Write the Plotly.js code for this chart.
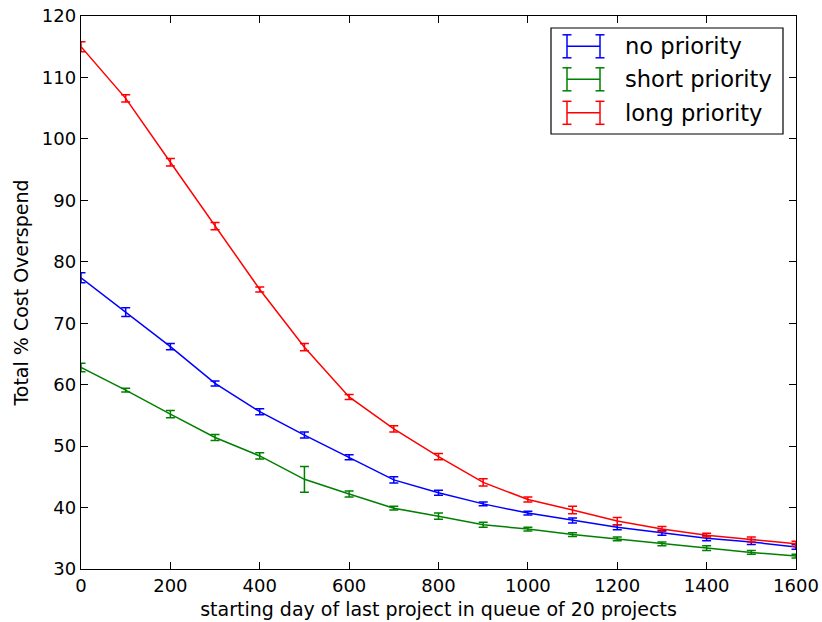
<!DOCTYPE html>
<html>
<head>
<meta charset="utf-8">
<script src="https://cdn.plot.ly/plotly-3.0.1.min.js"></script>
<style>html,body{margin:0;padding:0;background:#fff;}#chart{width:822px;height:622px;}</style>
</head>
<body>
<div id="chart"></div>
<script>
const days = [0,100,200,300,400,500,600,700,800,900,1000,1100,1200,1300,1400,1500,1600];

const seriesNames = ["no priority", "short priority", "long priority"];
const seriesColors = ["#0000ff", "#008000", "#ff0000"];

const noPriority    = [77.4,71.8,66.2,60.2,55.6,51.8,48.2,44.5,42.4,40.6,39.1,37.9,36.8,35.9,35.0,34.4,33.6];
const noPriorityErr = [0.8,0.7,0.5,0.4,0.5,0.5,0.4,0.5,0.4,0.3,0.3,0.4,0.4,0.4,0.4,0.4,0.4];

const shortPriority    = [62.8,59.1,55.2,51.4,48.4,44.6,42.2,39.9,38.6,37.2,36.5,35.6,34.9,34.1,33.4,32.7,32.1];
const shortPriorityErr = [0.7,0.3,0.6,0.5,0.5,2.1,0.5,0.3,0.5,0.4,0.3,0.3,0.3,0.3,0.4,0.3,0.3];

const longPriority    = [115.0,106.6,96.2,85.8,75.5,66.1,58.0,52.8,48.3,44.1,41.3,39.6,37.8,36.5,35.5,34.8,34.1];
const longPriorityErr = [0.8,0.6,0.6,0.6,0.4,0.6,0.4,0.5,0.5,0.6,0.4,0.6,0.6,0.4,0.3,0.4,0.4];

const xTicks = [0,200,400,600,800,1000,1200,1400,1600];
const yTicks = [30,40,50,60,70,80,90,100,110,120];

const xTitle = "starting day of last project in queue of 20 projects";
const yTitle = "Total % Cost Overspend";

const values = [noPriority, shortPriority, longPriority];
const errors = [noPriorityErr, shortPriorityErr, longPriorityErr];

const traces = values.map((v, i) => ({
  type: "scatter",
  mode: "lines",
  x: days,
  y: v,
  name: seriesNames[i],
  line: {color: seriesColors[i], width: 1.5},
  error_y: {type: "data", array: errors[i], visible: true, color: seriesColors[i], thickness: 1.5, width: 4.5},
  showlegend: false,
  hoverinfo: "x+y"
}));

// Custom matplotlib-style legend (pixel layout converted to paper coords)
const W = 822, H = 622, L = 81, R = 26, T = 16, B = 53;
const pw = W - L - R, ph = H - T - B;
const px = x => (x - L) / pw;
const py = y => (H - B - y) / ph;

const shapes = [];
const annotations = [];
shapes.push({type: "rect", xref: "paper", yref: "paper", x0: px(551), x1: px(783), y0: py(134), y1: py(28),
  line: {color: "#000", width: 1.2}, fillcolor: "#fff", layer: "above"});
const rowY = [46.3, 79.3, 112.8];
seriesNames.forEach((n, i) => {
  const c = seriesColors[i], y = rowY[i];
  const ln = {color: c, width: 1.5};
  shapes.push({type: "line", xref: "paper", yref: "paper", x0: px(567), x1: px(600), y0: py(y), y1: py(y), line: ln, layer: "above"});
  [567, 600].forEach(xx => {
    shapes.push({type: "line", xref: "paper", yref: "paper", x0: px(xx), x1: px(xx), y0: py(y - 11.5), y1: py(y + 11.5), line: ln, layer: "above"});
    shapes.push({type: "line", xref: "paper", yref: "paper", x0: px(xx - 4.5), x1: px(xx + 4.5), y0: py(y - 11.5), y1: py(y - 11.5), line: ln, layer: "above"});
    shapes.push({type: "line", xref: "paper", yref: "paper", x0: px(xx - 4.5), x1: px(xx + 4.5), y0: py(y + 11.5), y1: py(y + 11.5), line: ln, layer: "above"});
  });
  annotations.push({xref: "paper", yref: "paper", x: px(623), y: py(y), xanchor: "left", yanchor: "middle",
    text: n, showarrow: false, font: {family: "DejaVu Sans", size: 22.6, color: "#000"}});
});

const axisCommon = {
  showgrid: false, zeroline: false, showline: true, linecolor: "#000", linewidth: 1.2,
  mirror: "allticks", ticks: "inside", ticklen: 7, tickwidth: 1, tickcolor: "#000",
  tickfont: {family: "DejaVu Sans", size: 18, color: "#000"}
};

const layout = {
  width: W, height: H,
  margin: {l: L, r: R, t: T, b: B},
  paper_bgcolor: "#fff", plot_bgcolor: "#fff",
  font: {family: "DejaVu Sans", color: "#000"},
  xaxis: Object.assign({}, axisCommon, {
    range: [0, 1600], tickvals: xTicks, ticktext: xTicks.map(String),
    title: {text: xTitle, font: {family: "DejaVu Sans", size: 19, color: "#000"}, standoff: 8}
  }),
  yaxis: Object.assign({}, axisCommon, {
    range: [30, 120], tickvals: yTicks, ticktext: yTicks.map(String),
    title: {text: yTitle, font: {family: "DejaVu Sans", size: 19, color: "#000"}, standoff: 8}
  }),
  shapes: shapes,
  annotations: annotations,
  showlegend: false
};

Plotly.newPlot("chart", traces, layout, {displayModeBar: false, staticPlot: true});
</script>
</body>
</html>
